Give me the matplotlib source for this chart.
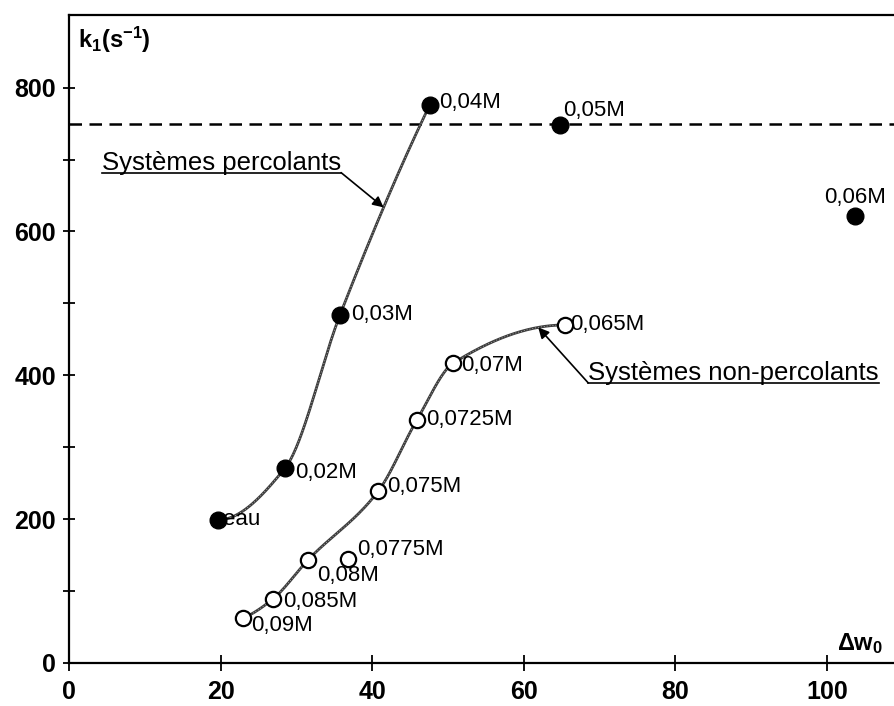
import numpy as np
import matplotlib
matplotlib.use("Agg")
import matplotlib.pyplot as plt

plt.rcParams['font.family'] = ['Liberation Sans', 'DejaVu Sans']
plt.rcParams['mathtext.fontset'] = 'custom'
plt.rcParams['mathtext.rm'] = 'Liberation Sans'
plt.rcParams['mathtext.bf'] = 'Liberation Sans:bold'
plt.rcParams['mathtext.it'] = 'Liberation Sans:italic'

# ---- data ----
perc_labels = ["eau", "0,02M", "0,03M", "0,04M", "0,05M", "0,06M"]
perc_x = [19.7, 28.5, 35.75, 47.6, 64.8, 103.7]
perc_y = [199, 271, 484, 776, 748, 622]
perc_on_curve = [True, True, True, True, False, False]

nonperc_labels = ["0,065M", "0,07M", "0,0725M", "0,075M", "0,0775M", "0,08M", "0,085M", "0,09M"]
nonperc_x = [65.4, 50.7, 45.9, 40.8, 36.8, 31.5, 26.9, 22.9]
nonperc_y = [470, 417, 338, 239, 145, 143, 89, 62]
nonperc_on_curve = [True, True, True, True, False, True, True, True]

threshold = 750

x_ticks = [0, 20, 40, 60, 80, 100]
y_ticks = [0, 200, 400, 600, 800]

# label offsets in pixels (dx, dy, ha)
perc_off = [(5, 0, 'left'), (10, -4, 'left'), (11, 0, 'left'), (9, 2, 'left'),
            (3, 15, 'left'), (0, 18, 'center')]
nonperc_off = [(5, 0, 'left'), (8, -2, 'left'), (9, 0, 'left'), (9, 5, 'left'),
               (9, 9, 'left'), (9, -15, 'left'), (10, -3, 'left'), (9, -7, 'left')]


def pchip(x, y, xs):
    x = np.asarray(x, float); y = np.asarray(y, float)
    h = np.diff(x); d = np.diff(y) / h
    n = len(x)
    m = np.zeros(n)
    for k in range(1, n - 1):
        if d[k - 1] * d[k] > 0:
            w1 = 2 * h[k] + h[k - 1]; w2 = h[k] + 2 * h[k - 1]
            m[k] = (w1 + w2) / (w1 / d[k - 1] + w2 / d[k])
    def endslope(h0, h1, d0, d1):
        s = ((2 * h0 + h1) * d0 - h0 * d1) / (h0 + h1)
        if np.sign(s) != np.sign(d0):
            s = 0
        elif np.sign(d0) != np.sign(d1) and abs(s) > abs(3 * d0):
            s = 3 * d0
        return s
    m[0] = endslope(h[0], h[1], d[0], d[1])
    m[-1] = endslope(h[-1], h[-2], d[-1], d[-2])
    xs = np.asarray(xs, float)
    idx = np.clip(np.searchsorted(x, xs) - 1, 0, n - 2)
    t = (xs - x[idx]) / h[idx]
    h00 = 2 * t**3 - 3 * t**2 + 1
    h10 = t**3 - 2 * t**2 + t
    h01 = -2 * t**3 + 3 * t**2
    h11 = t**3 - t**2
    return h00 * y[idx] + h10 * h[idx] * m[idx] + h01 * y[idx + 1] + h11 * h[idx] * m[idx + 1]


fig = plt.figure(figsize=(8.95, 7.06), dpi=100)
ax = fig.add_axes([69 / 895, 43 / 706, (895 - 69) / 895, (691 - 43) / 706])
ax.set_xlim(0, 108.97)
ax.set_ylim(0, 901)

# curves
def curve_pts(xv, yv, flags):
    pts = sorted((a, b) for a, b, f in zip(xv, yv, flags) if f)
    cx = [p[0] for p in pts]; cy = [p[1] for p in pts]
    return cx, cy

pcx, pcy = curve_pts(perc_x, perc_y, perc_on_curve)
ncx, ncy = curve_pts(nonperc_x, nonperc_y, nonperc_on_curve)
for cx, cy in [(pcx, pcy), (ncx, ncy)]:
    xs = np.linspace(cx[0], cx[-1], 300)
    ys = pchip(cx, cy, xs)
    ax.plot(xs, ys, color='#3c3c3c', lw=2.0, zorder=2, solid_capstyle='round')
    ax.plot(xs, ys, color='white', lw=0.6, ls=(0, (1, 2.5)), zorder=2.1, alpha=0.7)

# threshold dashed line
ax.axhline(threshold, color='black', lw=1.8, dashes=(5, 3), zorder=1)

# markers
ax.plot(perc_x, perc_y, 'o', ms=12, color='black', zorder=3, clip_on=False)
ax.plot(nonperc_x, nonperc_y, 'o', ms=11, mfc='white', mec='black', mew=1.6, zorder=3)

for lab, x, y, (dx, dy, ha) in zip(perc_labels, perc_x, perc_y, perc_off):
    ax.annotate(lab, (x, y), xytext=(dx, dy), textcoords='offset pixels',
                ha=ha, va='center', fontsize=16, zorder=4)
for lab, x, y, (dx, dy, ha) in zip(nonperc_labels, nonperc_x, nonperc_y, nonperc_off):
    ax.annotate(lab, (x, y), xytext=(dx, dy), textcoords='offset pixels',
                ha=ha, va='center', fontsize=16, zorder=4)

# axes styling
for s in ['left', 'bottom', 'top']:
    ax.spines[s].set_linewidth(1.6)
ax.spines['right'].set_visible(False)
ax.set_xticks(x_ticks)
ax.set_yticks(y_ticks)
ax.set_yticks(np.arange(100, 900, 200), minor=True)
ax.tick_params(axis='x', direction='inout', length=12, width=1.3, pad=6,
               labelsize=18)
ax.tick_params(axis='y', which='both', direction='inout', length=9, width=1.3, pad=5,
               labelsize=18)
for lab in ax.get_xticklabels() + ax.get_yticklabels():
    lab.set_fontweight('bold')

ax.text(1.2, 866, r'$\mathbf{k_1(s^{-1})}$', fontsize=17, ha='left', va='center')
ax.text(101.3, 27, r'$\mathbf{\Delta w_0}$', fontsize=17, ha='left', va='center')

# underlined annotations with leader arrows
fig.canvas.draw()
r = fig.canvas.get_renderer()
inv = ax.transData.inverted()

def underlined(txt, x, yb, tip_x, curve, from_right):
    t = ax.text(x, yb, txt, fontsize=18.5, ha='left', va='baseline')
    bb = t.get_window_extent(r)
    base = ax.transData.transform((x, yb))[1]
    x0 = inv.transform((bb.x0, base))[0]
    x1 = inv.transform((bb.x1, base))[0]
    uy = inv.transform((bb.x0, base - 3))[1]
    ax.plot([x0, x1], [uy, uy], color='black', lw=1.2)
    cx, cy = curve
    tip = (tip_x, float(pchip(cx, cy, [tip_x])[0]))
    start = (x1, uy) if from_right else (x0, uy)
    ax.annotate('', xy=tip, xytext=start,
                arrowprops=dict(arrowstyle='-|>', color='black', lw=1.2,
                                shrinkA=0, shrinkB=0, mutation_scale=16))

underlined('Systèmes percolants', 4.35, 686, 41.5, (pcx, pcy), True)
underlined('Systèmes non-percolants', 68.5, 393.6, 61.9, (ncx, ncy), False)

fig.savefig('out.png', dpi=100)
